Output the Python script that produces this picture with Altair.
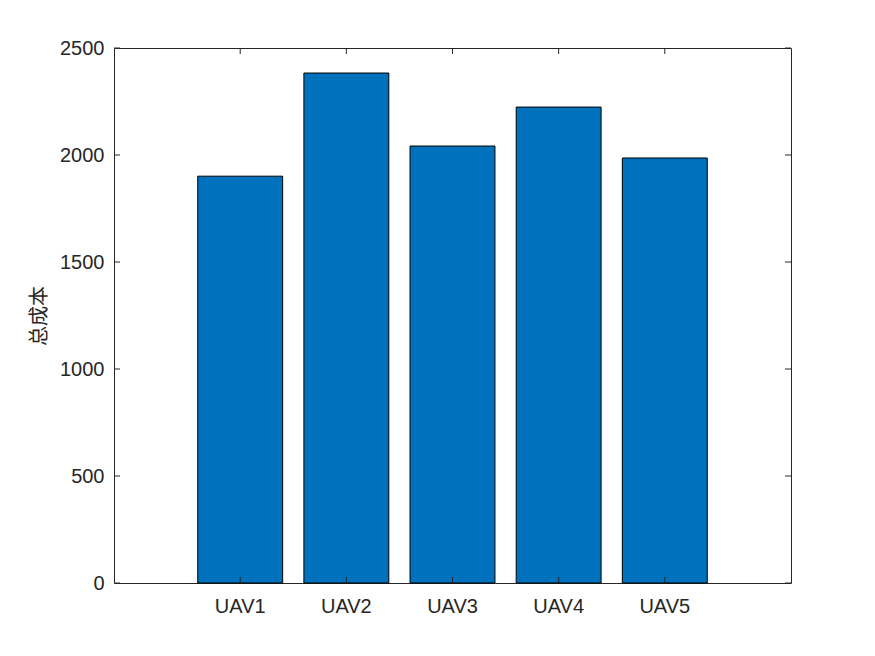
import altair as alt
import pandas as pd

categories = ["UAV1", "UAV2", "UAV3", "UAV4", "UAV5"]
costs = [1901, 2383, 2042, 2224, 1986]
y_ticks = [0, 500, 1000, 1500, 2000, 2500]

df = pd.DataFrame({"uav": categories, "cost": costs})
ydf = pd.DataFrame({"v": y_ticks})

AX = "#262626"
FONT = "Liberation Sans"
W, H, T = 677, 535, 6

xscale = alt.Scale(domain=categories, paddingInner=0.2, paddingOuter=0.789)
yscale = alt.Scale(domain=[0, 2500], nice=False)

common = dict(tickSize=0, ticks=False, domain=False, grid=False,
              labelColor=AX, labelFont=FONT, labelFontSize=20)

xaxis = alt.Axis(orient="bottom", title=None, labelAngle=0, labelPadding=13, **common)
yaxis = alt.Axis(orient="left", title="总成本", values=y_ticks, format="d", labelPadding=10,
                 titleFont="Noto Sans CJK SC", titleFontSize=20, titleFontWeight="normal",
                 titleColor=AX, titlePadding=10, **common)

bars = alt.Chart(df).mark_bar(color="#0072BD", stroke="#000000", strokeWidth=1).encode(
    x=alt.X("uav:N", scale=xscale, sort=categories, axis=xaxis),
    y=alt.Y("cost:Q", scale=yscale, axis=yaxis),
)

# inward tick marks (MATLAB style), positioned by the scales
xt_bottom = alt.Chart(df).mark_rule(color=AX, strokeWidth=1).encode(
    x=alt.X("uav:N", scale=xscale, sort=categories, axis=xaxis),
    y=alt.value(H - T), y2=alt.value(H))
xt_top = alt.Chart(df).mark_rule(color=AX, strokeWidth=1).encode(
    x=alt.X("uav:N", scale=xscale, sort=categories, axis=xaxis),
    y=alt.value(0), y2=alt.value(T))
yt_left = alt.Chart(ydf).mark_rule(color=AX, strokeWidth=1).encode(
    y=alt.Y("v:Q", scale=yscale, axis=yaxis),
    x=alt.value(0), x2=alt.value(T))
yt_right = alt.Chart(ydf).mark_rule(color=AX, strokeWidth=1).encode(
    y=alt.Y("v:Q", scale=yscale, axis=yaxis),
    x=alt.value(W - T), x2=alt.value(W))

chart = alt.layer(bars, xt_bottom, xt_top, yt_left, yt_right).properties(
    width=W, height=H, autosize="none", background="white",
    padding={"left": 106, "top": 40, "right": 60, "bottom": 60},
).configure_view(stroke=AX, strokeWidth=1)

chart.save("out.html", embed_options={"renderer": "svg", "actions": False})
